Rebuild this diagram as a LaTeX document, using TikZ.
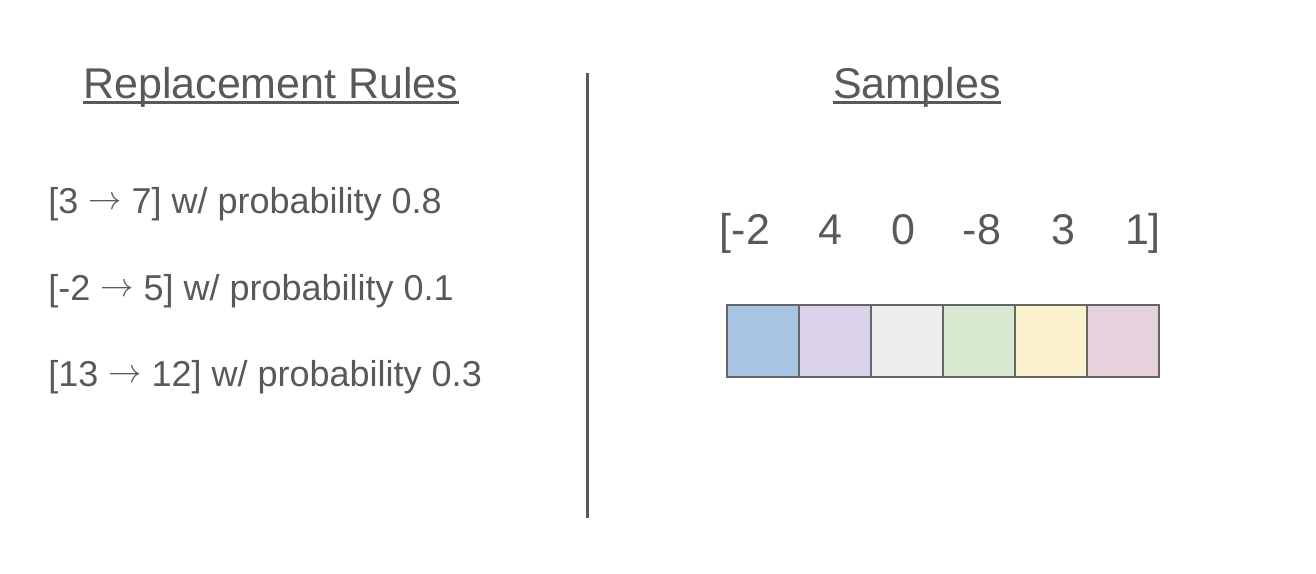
\documentclass[tikz,border=0pt]{standalone}
\usepackage{fix-cm}
\usepackage{graphicx}
\usepackage{fontspec}
\setmainfont{Liberation Sans}
\definecolor{txt}{HTML}{595959}
\definecolor{edge}{HTML}{666666}
\definecolor{cA}{HTML}{A7C4E5}
\definecolor{cB}{HTML}{D9D2E9}
\definecolor{cC}{HTML}{EEEEEE}
\definecolor{cD}{HTML}{D9EAD3}
\definecolor{cE}{HTML}{FCF1CF}
\definecolor{cF}{HTML}{E6D2DC}
\newcommand{\myarrow}{\raisebox{3pt}{\resizebox{25pt}{!}{$\rightarrow$}}}
\tikzset{
  title/.style={anchor=base west,inner sep=0pt,text=txt,font=\fontsize{32.25}{36}\selectfont},
  rule/.style={anchor=base west,inner sep=0pt,text=txt,font=\fontsize{27}{31}\selectfont},
  num/.style={anchor=base,inner sep=0pt,text=txt,font=\fontsize{32.25}{36}\selectfont},
  cell/.style={draw=edge,line width=1.5pt,minimum width=54pt,minimum height=54pt,inner sep=0pt},
  uline/.style={draw=txt,line width=2pt},
  divider/.style={draw=txt,line width=2.6pt}
}
\begin{document}
\begin{tikzpicture}[x=0.75pt,y=-0.75pt]
\useasboundingbox (0,0) rectangle (1316,574);
% titles
\node[title] (t1) at (83,99) {Replacement Rules};
\node[title] (t2) at (833,99) {Samples};
\draw[uline] ([yshift=-2.6pt]t1.base west) -- ([yshift=-2.6pt]t1.base east);
\draw[uline] ([yshift=-2.6pt]t2.base west) -- ([yshift=-2.6pt]t2.base east);
% divider
\coordinate (d1) at (587.5,73);
\coordinate (d2) at (587.5,518);
\draw[divider] (d1) -- (d2);
% rules
\node[rule] (r1) at (48,213) {[3 \myarrow{} 7] w/ probability 0.8};
\node[rule] (r2) at (48,300) {[-2 \myarrow{} 5] w/ probability 0.1};
\node[rule] (r3) at (48,386) {[13 \myarrow{} 12] w/ probability 0.3};
% samples
\node[num] (n1) at (745,244) {[-2};
\node[num] (n2) at (830,244) {4};
\node[num] (n3) at (903,244) {0};
\node[num] (n4) at (982,244) {-8};
\node[num] (n5) at (1063,244) {3};
\node[num] (n6) at (1143,244) {1]};
% cells
\node[cell,fill=cA] (c1) at (763,341) {};
\node[cell,fill=cB] (c2) at (835,341) {};
\node[cell,fill=cC] (c3) at (907,341) {};
\node[cell,fill=cD] (c4) at (979,341) {};
\node[cell,fill=cE] (c5) at (1051,341) {};
\node[cell,fill=cF] (c6) at (1123,341) {};
\end{tikzpicture}
\end{document}
